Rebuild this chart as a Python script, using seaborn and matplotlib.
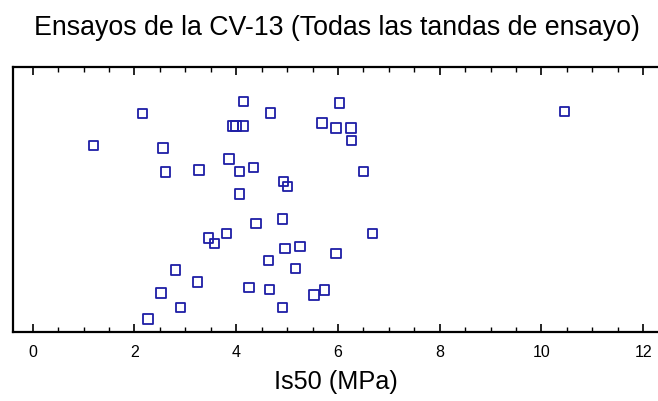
import matplotlib
matplotlib.use("Agg")
import matplotlib.pyplot as plt
from matplotlib.ticker import MultipleLocator
import pandas as pd
import seaborn as sns

# Point-load strength index of every test, with the vertical scatter offset used to spread them out
is50_mpa = [2.16, 1.20, 2.56, 2.61, 3.27, 4.14, 4.67, 3.94, 4.00, 4.13,
            6.03, 5.69, 5.96, 6.26, 6.27, 3.86, 4.06, 4.34, 4.93, 5.01,
            4.06, 6.50, 3.45, 3.57, 3.81, 2.81, 3.24, 2.52, 2.90, 2.27,
            4.39, 4.91, 4.96, 5.25, 5.96, 6.68, 4.63, 5.16, 4.25, 4.66,
            5.53, 5.73, 4.91, 10.45]
jitter = [0.825, 0.703, 0.694, 0.604, 0.612, 0.869, 0.826, 0.778, 0.778, 0.778,
          0.864, 0.789, 0.770, 0.770, 0.722, 0.653, 0.605, 0.620, 0.569, 0.550,
          0.521, 0.605, 0.354, 0.335, 0.372, 0.234, 0.188, 0.147, 0.093, 0.049,
          0.409, 0.426, 0.316, 0.323, 0.297, 0.371, 0.269, 0.240, 0.167, 0.160,
          0.140, 0.158, 0.093, 0.833]
x_ticks = [0, 2, 4, 6, 8, 10, 12]

title = "Ensayos de la CV-13 (Todas las tandas de ensayo)"
xlabel = "Is50 (MPa)"

df = pd.DataFrame({"Is50": is50_mpa, "jitter": jitter})

sns.set_style("white")
plt.rcParams["font.family"] = ["Liberation Sans", "DejaVu Sans"]
plt.rcParams["text.color"] = "black"
plt.rcParams["axes.labelcolor"] = "black"
plt.rcParams["xtick.color"] = "black"
plt.rcParams["xtick.labelcolor"] = "black"

fig = plt.figure(figsize=(6.58, 4.02), dpi=100)
ax = fig.add_axes([13 / 658, 69 / 402, 1 - 13 / 658, 265 / 402])

marker_color = "#1e1ea6"
sns.scatterplot(data=df, x="Is50", y="jitter", ax=ax, marker="s", s=46,
                facecolor="none", edgecolor=marker_color, linewidth=1.3,
                legend=False)

ax.set_xlim(-0.387, 12.29)
ax.set_ylim(0, 1)
ax.set_yticks([])
ax.set_ylabel("")
ax.set_xticks(x_ticks)
ax.set_xticklabels([str(t) for t in x_ticks], fontsize=11.5)
ax.xaxis.set_minor_locator(MultipleLocator(0.5))
ax.tick_params(axis="x", which="major", direction="in", length=6, width=1.2,
               top=True, bottom=True, pad=9, colors="black")
ax.tick_params(axis="x", which="minor", direction="in", length=3.5, width=1.0,
               top=True, bottom=True)

for side in ("left", "top", "bottom"):
    ax.spines[side].set_visible(True)
    ax.spines[side].set_color("black")
    ax.spines[side].set_linewidth(1.6)
ax.spines["right"].set_visible(False)

ax.set_xlabel(xlabel, fontsize=18.2, labelpad=7)
fig.text(337 / 658, 1 - 28 / 402, title, ha="center", va="center",
         fontsize=19.3, color="black")

fig.savefig("out.png", dpi=100, facecolor="white")
